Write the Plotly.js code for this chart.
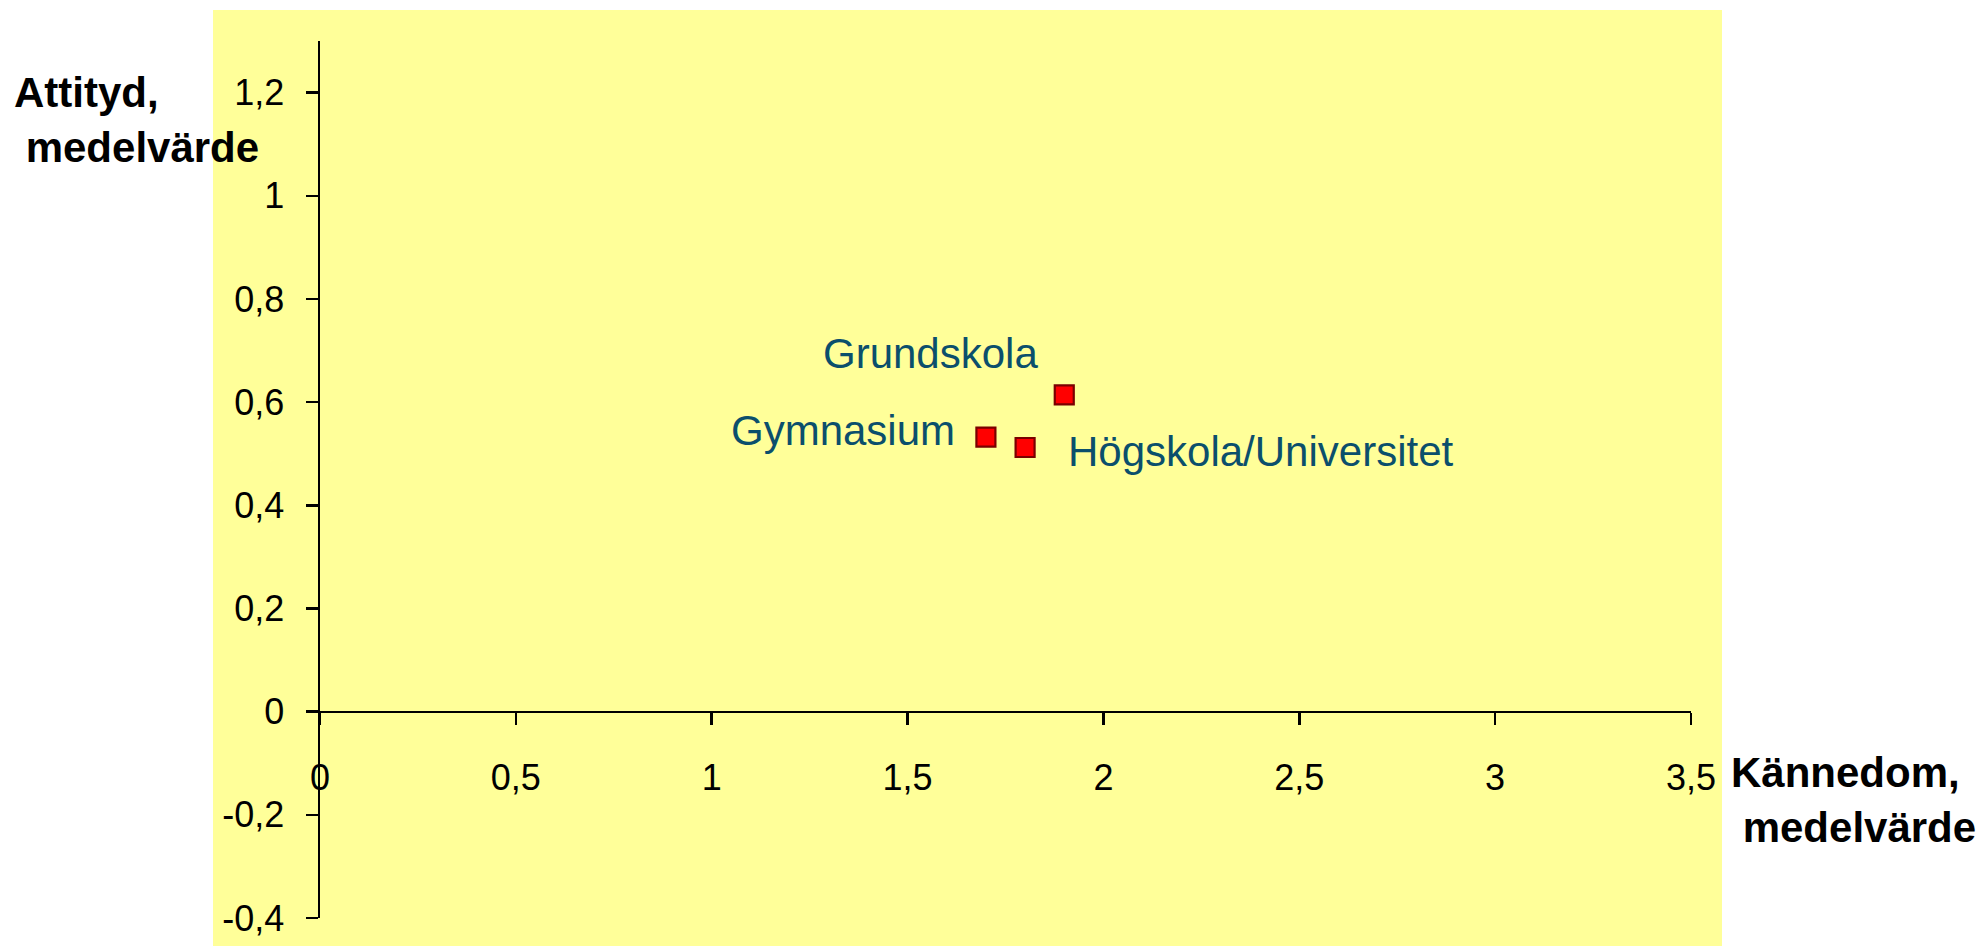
<!DOCTYPE html>
<html>
<head>
<meta charset="utf-8">
<script src="https://cdn.plot.ly/plotly-3.0.1.min.js"></script>
<style>
  html, body { margin: 0; padding: 0; background: #ffffff; }
  #chart { width: 1982px; height: 946px; }
</style>
</head>
<body>
<div id="chart"></div>
<script>
// ---- Data ----
const categories = ["Grundskola", "Gymnasium", "Högskola/Universitet"];
const kannedom = [1.90, 1.70, 1.80];   // x: Kännedom, medelvärde
const attityd = [0.614, 0.532, 0.512]; // y: Attityd, medelvärde

const xTickVals = [0, 0.5, 1, 1.5, 2, 2.5, 3, 3.5];
const xTickText = ["0", "0,5", "1", "1,5", "2", "2,5", "3", "3,5"];
const yTickVals = [-0.4, -0.2, 0, 0.2, 0.4, 0.6, 0.8, 1, 1.2];
const yTickText = ["-0,4", "-0,2", "0", "0,2", "0,4", "0,6", "0,8", "1", "1,2"];

const xTitleLines = ["Kännedom,", "\u00A0medelvärde"];
const yTitleLines = ["Attityd,", "\u00A0medelvärde"];

// ---- Layout geometry ----
const W = 1982, H = 946;
const M = { l: 320, r: 291, t: 41, b: 28 };
const PW = W - M.l - M.r, PH = H - M.t - M.b;
const px = v => (v - M.l) / PW;
const py = v => (H - M.b - v) / PH;
const yMin = -0.4, yMax = 1.3;

const FONT = "Liberation Sans, Arial, Helvetica, sans-serif";
const LABEL_COLOR = "#0B4F6C";

// label placement (pixel offsets relative to each point)
const labelStyle = [
  { xanchor: "center", xshift: -134, yshift: 41.5 },
  { xanchor: "right",  xshift: -29,  yshift: 7 },
  { xanchor: "left",   xshift: 41,   yshift: -3.5 }
];

const trace = {
  type: "scatter",
  mode: "markers",
  x: kannedom,
  y: attityd,
  text: categories,
  marker: {
    symbol: "square",
    size: 19,
    color: "#FF0000",
    line: { color: "#7A0000", width: 2.2 }
  },
  hoverinfo: "none",
  showlegend: false
};

const annotations = categories.map((c, i) => ({
  xref: "x", yref: "y",
  x: kannedom[i], y: attityd[i],
  text: c,
  showarrow: false,
  xanchor: labelStyle[i].xanchor,
  yanchor: "middle",
  xshift: labelStyle[i].xshift,
  yshift: labelStyle[i].yshift,
  font: { family: FONT, size: 42, color: LABEL_COLOR }
}));

annotations.push({
  xref: "paper", yref: "paper",
  x: px(12), y: py(119.5),
  xanchor: "left", yanchor: "middle", align: "left",
  text: "<b>" + yTitleLines.join("<br>") + "</b>",
  showarrow: false,
  font: { family: FONT, size: 42, color: "#000000" }
});
annotations.push({
  xref: "paper", yref: "paper",
  x: px(1729), y: py(799.5),
  xanchor: "left", yanchor: "middle", align: "left",
  text: "<b>" + xTitleLines.join("<br>") + "</b>",
  showarrow: false,
  font: { family: FONT, size: 42, color: "#000000" }
});

const layout = {
  width: W, height: H,
  margin: M,
  paper_bgcolor: "#FFFFFF",
  plot_bgcolor: "rgba(0,0,0,0)",
  font: { family: FONT, size: 36, color: "#000000" },
  showlegend: false,
  xaxis: {
    range: [0, 3.5],
    anchor: "free",
    position: (0 - yMin) / (yMax - yMin),
    tickvals: xTickVals,
    ticktext: xTickText,
    ticks: "outside",
    ticklen: 12,
    tickwidth: 2.5,
    tickcolor: "#000000",
    showline: true,
    linewidth: 2.5,
    linecolor: "#000000",
    showgrid: false,
    zeroline: false,
    ticklabelstandoff: 22,
    tickfont: { family: FONT, size: 36, color: "#000000" },
    fixedrange: true
  },
  yaxis: {
    range: [yMin, yMax],
    tickvals: yTickVals,
    ticktext: yTickText,
    ticks: "outside",
    ticklen: 12,
    tickwidth: 2.5,
    tickcolor: "#000000",
    showline: true,
    linewidth: 2.5,
    linecolor: "#000000",
    showgrid: false,
    zeroline: false,
    ticklabelstandoff: 14,
    tickfont: { family: FONT, size: 36, color: "#000000" },
    fixedrange: true
  },
  shapes: [{
    type: "rect",
    xref: "paper", yref: "paper",
    x0: px(213), x1: px(1722),
    y0: py(946), y1: py(10),
    fillcolor: "#FFFF99",
    line: { width: 0 },
    layer: "below"
  }],
  annotations: annotations
};

Plotly.newPlot("chart", [trace], layout, { staticPlot: true, displayModeBar: false });
</script>
</body>
</html>
